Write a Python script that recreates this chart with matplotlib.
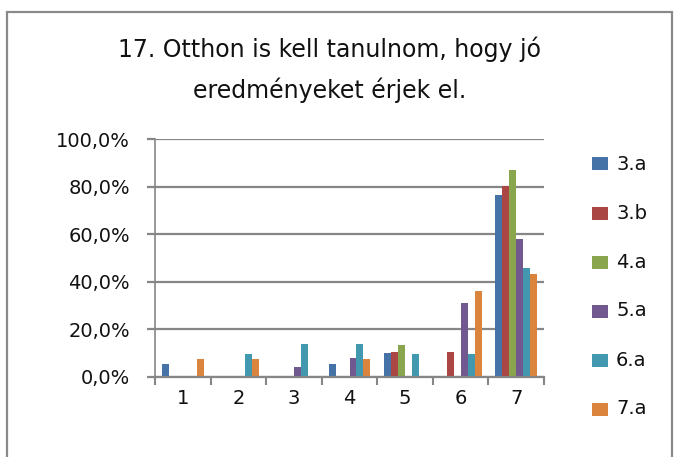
import numpy as np
import matplotlib
matplotlib.use("Agg")
import matplotlib.pyplot as plt
from matplotlib.patches import Rectangle

plt.rcParams['font.family'] = ['DejaVu Sans']

# data (percent)
categories = ['1', '2', '3', '4', '5', '6', '7']
series_names = ['3.a', '3.b', '4.a', '5.a', '6.a', '7.a']
s_3a = [5.2, 0.0, 0.0, 5.2, 9.8, 0.0, 76.5]
s_3b = [0.0, 0.0, 0.0, 0.0, 10.3, 10.3, 80.3]
s_4a = [0.0, 0.0, 0.0, 0.0, 13.2, 0.0, 87.0]
s_5a = [0.0, 0.0, 3.9, 7.7, 0.0, 31.0, 57.9]
s_6a = [0.0, 9.4, 13.7, 13.7, 9.4, 9.4, 45.7]
s_7a = [7.3, 7.3, 0.0, 7.3, 0.0, 36.1, 43.2]
series = [s_3a, s_3b, s_4a, s_5a, s_6a, s_7a]
colors = ['#4572A7', '#AA4643', '#89A54E', '#71588F', '#4198AF', '#DB843D']
yticks = [0, 20, 40, 60, 80, 100]

W, H = 679, 457
fig = plt.figure(figsize=(W / 100, H / 100), dpi=100)

# outer chart frame
fig.patches.append(Rectangle((7 / W, -0.05), 665 / W, (H - 12) / H + 0.05,
                             transform=fig.transFigure, fill=False,
                             edgecolor='#8a8a8a', linewidth=1.6))

ax = fig.add_axes([155 / W, (H - 376.7) / H, 389 / W, 237.7 / H])

n = len(series)
group = 0.755
bw = group / n
x = np.arange(len(categories))
for i, (vals, c) in enumerate(zip(series, colors)):
    ax.bar(x - group / 2 + bw * (i + 0.5), vals, width=bw, color=c, linewidth=0)

ax.set_xlim(-0.5, len(categories) - 0.5)
ax.set_ylim(0, 100)
ax.set_yticks(yticks)
ax.set_yticklabels([f"{v:.1f}%".replace('.', ',') for v in yticks])
ax.yaxis.grid(True, color='#868686', linewidth=1.6)
ax.set_axisbelow(True)

ax.set_xticks(np.arange(len(categories) + 1) - 0.5)
ax.set_xticklabels([])
ax.set_xticks(x, minor=True)
ax.set_xticklabels(categories, minor=True)
ax.tick_params(axis='x', which='minor', length=0, pad=9, labelsize=14, labelcolor='#111111')
ax.tick_params(axis='x', which='major', length=6, width=1.5, color='#868686')
ax.tick_params(axis='y', length=6, width=1.6, color='#868686', pad=12, labelsize=14,
               labelcolor='#111111')

for side in ['top', 'right']:
    ax.spines[side].set_visible(False)
ax.spines['left'].set_color('#868686')
ax.spines['left'].set_linewidth(1.2)
ax.spines['bottom'].set_color('#868686')
ax.spines['bottom'].set_linewidth(1.6)

# title
fig.text(330 / W, 1 - 70 / H, "17. Otthon is kell tanulnom, hogy jó\neredményeket érjek el.",
         ha='center', va='center', fontsize=17, linespacing=1.75, color='#111111')

# legend
for i, (name, c) in enumerate(zip(series_names, colors)):
    yc = 164 + i * 49
    fig.patches.append(Rectangle((592 / W, 1 - (yc + 6.5) / H), 16 / W, 13 / H,
                                 transform=fig.transFigure, color=c, linewidth=0))
    fig.text(616 / W, 1 - yc / H, name, ha='left', va='center', fontsize=14, color='#111111')

fig.savefig("out.png", dpi=100)
